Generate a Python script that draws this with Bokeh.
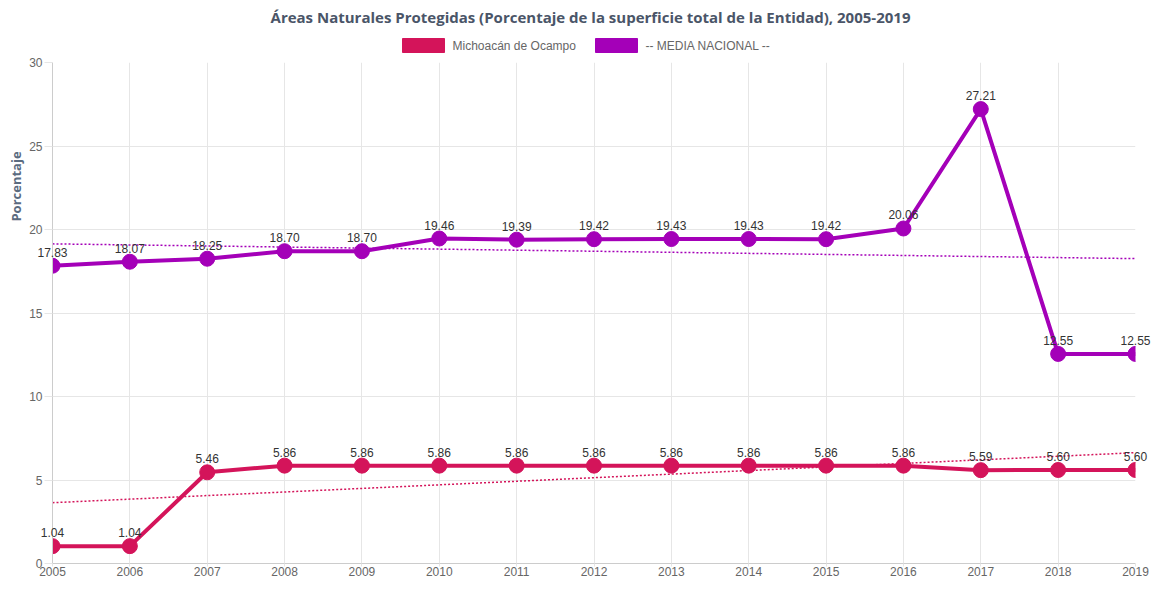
import numpy as np
from bokeh.plotting import figure
from bokeh.models import ColumnDataSource, FixedTicker, Range1d
from bokeh.embed import file_html
from bokeh.resources import INLINE
from bokeh.core.properties import value

years = [2005, 2006, 2007, 2008, 2009, 2010, 2011, 2012, 2013, 2014, 2015, 2016, 2017, 2018, 2019]
michoacan = [1.04, 1.04, 5.46, 5.86, 5.86, 5.86, 5.86, 5.86, 5.86, 5.86, 5.86, 5.86, 5.59, 5.60, 5.60]
media = [17.83, 18.07, 18.25, 18.70, 18.70, 19.46, 19.39, 19.42, 19.43, 19.43, 19.42, 20.06, 27.21, 12.55, 12.55]
series_names = ["Michoacán de Ocampo", "-- MEDIA NACIONAL --"]
y_ticks = [0, 5, 10, 15, 20, 25, 30]
title_text = "Áreas Naturales Protegidas (Porcentaje de la superficie total de la Entidad), 2005-2019"
y_label = "Porcentaje"

C_MICH = "#d4145a"
C_MEDIA = "#a400b8"
GRID = "#e6e6e6"

W, H = 1153, 581
BL, BR, BT, BB = 52, 18, 62, 18
FW, FH = W - BL - BR, H - BT - BB
X0, X1 = years[0], years[-1]
Y0, Y1 = y_ticks[0], y_ticks[-1]


def x_of(px):
    """figure pixel column -> data x (for layout of title/legend)"""
    return X0 + (px - BL) / FW * (X1 - X0)


def y_of(py):
    """figure pixel row -> data y"""
    return Y1 - (py - BT) / FH * (Y1 - Y0)


p = figure(width=W, height=H, output_backend="svg", toolbar_location=None,
           x_range=Range1d(X0, X1), y_range=Range1d(Y0, Y1),
           min_border_left=BL, min_border_right=BR, min_border_bottom=BB, min_border_top=BT)
p.outline_line_color = None
p.background_fill_color = "white"

# axes
p.xaxis.ticker = FixedTicker(ticks=years)
p.yaxis.ticker = FixedTicker(ticks=y_ticks)
for ax in (p.xaxis[0], p.yaxis[0]):
    ax.major_label_text_font = "Liberation Sans"
    ax.major_label_text_font_size = "12px"
    ax.major_label_text_color = "#666666"
    ax.major_tick_line_color = GRID
    ax.minor_tick_line_color = None
    ax.axis_line_color = "#cccccc"
p.xaxis.major_tick_out = 3
p.xaxis.major_tick_in = 0
p.xaxis.major_label_standoff = 0
p.yaxis.major_tick_out = 8
p.yaxis.major_tick_in = 0
p.yaxis.major_label_standoff = 2
p.xgrid.grid_line_color = GRID
p.ygrid.grid_line_color = GRID

# trend lines (least squares on the data)
xs = np.array(years, dtype=float)
for vals, col in ((michoacan, C_MICH), (media, C_MEDIA)):
    m, b = np.polyfit(xs, np.array(vals), 1)
    p.line(x=[X0, X1], y=[m * X0 + b, m * X1 + b],
           line_color=col, line_width=1.5, line_dash="2 2")

src = ColumnDataSource(dict(x=years, m=michoacan, n=media,
                            ml=["%.2f" % v for v in michoacan],
                            nl=["%.2f" % v for v in media]))
for ycol, lcol, col in (("m", "ml", C_MICH), ("n", "nl", C_MEDIA)):
    p.line("x", ycol, source=src, line_color=col, line_width=4)
    p.scatter("x", ycol, source=src, size=15, fill_color=col, line_color=col)
    t = p.text("x", ycol, text=lcol, source=src, text_align="center", text_baseline="bottom",
               y_offset=-9, text_font=value("Liberation Sans"), text_font_size="12px",
               text_color="#333333")
    t.level = "overlay"

# title (text glyph anchored to the top of the value axis, offset in pixels)
tt = p.text(x=[x_of(590)], y=[Y1], text=[title_text], y_offset=-(BT - 16),
            text_align="center", text_baseline="middle",
            text_font=value("Open Sans"), text_font_size="15px", text_font_style="bold",
            text_color="#4a5568")
tt.level = "overlay"

# y axis title
ty = p.text(x=[X0], y=[Y1], text=[y_label], x_offset=-(BL - 15), y_offset=124,
            angle=np.pi / 2, text_align="center", text_baseline="middle",
            text_font=value("Open Sans"), text_font_size="13px", text_font_style="bold",
            text_color="#5b6b7f")
ty.level = "overlay"

# legend: swatches + labels
LEG_Y = 45
sw_left = [402, 595]
for i, (name, col) in enumerate(zip(series_names, [C_MICH, C_MEDIA])):
    q = p.quad(left=[x_of(sw_left[i])], right=[x_of(sw_left[i] + 42)],
               top=[y_of(LEG_Y - 7)], bottom=[y_of(LEG_Y + 7)],
               fill_color=col, line_color=col)
    q.level = "overlay"
    tl = p.text(x=[x_of(sw_left[i] + 50)], y=[Y1], text=[name], y_offset=-(BT - LEG_Y),
                text_align="left", text_baseline="middle",
                text_font=value("Liberation Sans"), text_font_size="12px",
                text_color="#666666")
    tl.level = "overlay"

open("out.html", "w").write(file_html(p, INLINE))
